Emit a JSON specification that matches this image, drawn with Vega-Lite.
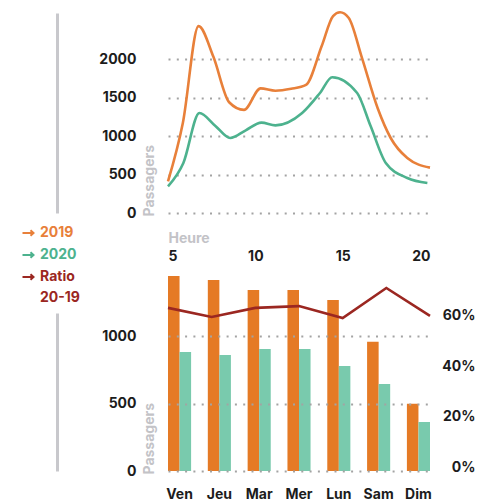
{
  "$schema": "https://vega.github.io/schema/vega-lite/v6.json",
  "padding": {"left": 21, "top": 7, "right": 0, "bottom": 0},
  "spacing": 56,
  "bounds": "flush",
  "config": {
    "font": "Inter",
    "view": {"stroke": null},
    "axis": {
      "labelFont": "Inter", "labelFontSize": 14, "labelFontWeight": "bold", "labelColor": "#1c1c1c",
      "titleFont": "Inter", "titleFontSize": 14, "titleFontWeight": "bold", "titleColor": "#c3c3c7",
      "ticks": false, "domain": false
    }
  },
  "resolve": {"scale": {"color": "independent"}, "legend": {"color": "independent"}},
  "datasets": {
    "heures": [
      {"heure": 5.0, "passagers": 411, "annee": "2019"},
      {"heure": 5.85, "passagers": 1170, "annee": "2019"},
      {"heure": 6.75, "passagers": 2430, "annee": "2019"},
      {"heure": 7.6, "passagers": 2030, "annee": "2019"},
      {"heure": 8.5, "passagers": 1440, "annee": "2019"},
      {"heure": 9.35, "passagers": 1340, "annee": "2019"},
      {"heure": 10.3, "passagers": 1620, "annee": "2019"},
      {"heure": 11.15, "passagers": 1590, "annee": "2019"},
      {"heure": 12.05, "passagers": 1615, "annee": "2019"},
      {"heure": 12.9, "passagers": 1665, "annee": "2019"},
      {"heure": 13.8, "passagers": 2170, "annee": "2019"},
      {"heure": 14.45, "passagers": 2560, "annee": "2019"},
      {"heure": 14.85, "passagers": 2610, "annee": "2019"},
      {"heure": 15.35, "passagers": 2535, "annee": "2019"},
      {"heure": 16.1, "passagers": 2020, "annee": "2019"},
      {"heure": 17.0, "passagers": 1365, "annee": "2019"},
      {"heure": 17.75, "passagers": 975, "annee": "2019"},
      {"heure": 18.7, "passagers": 715, "annee": "2019"},
      {"heure": 20.0, "passagers": 590, "annee": "2019"},
      {"heure": 5.0, "passagers": 346, "annee": "2020"},
      {"heure": 5.88, "passagers": 650, "annee": "2020"},
      {"heure": 6.8, "passagers": 1300, "annee": "2020"},
      {"heure": 7.7, "passagers": 1135, "annee": "2020"},
      {"heure": 8.56, "passagers": 975, "annee": "2020"},
      {"heure": 9.45, "passagers": 1075, "annee": "2020"},
      {"heure": 10.35, "passagers": 1175, "annee": "2020"},
      {"heure": 11.15, "passagers": 1139, "annee": "2020"},
      {"heure": 12.68, "passagers": 1300, "annee": "2020"},
      {"heure": 13.7, "passagers": 1560, "annee": "2020"},
      {"heure": 14.4, "passagers": 1765, "annee": "2020"},
      {"heure": 15.83, "passagers": 1560, "annee": "2020"},
      {"heure": 16.6, "passagers": 1130, "annee": "2020"},
      {"heure": 17.47, "passagers": 650, "annee": "2020"},
      {"heure": 18.7, "passagers": 455, "annee": "2020"},
      {"heure": 19.85, "passagers": 390, "annee": "2020"}
    ],
    "jours": [
      {"jour": "Ven", "annee": "2019", "passagers": 1448},
      {"jour": "Ven", "annee": "2020", "passagers": 884},
      {"jour": "Jeu", "annee": "2019", "passagers": 1418},
      {"jour": "Jeu", "annee": "2020", "passagers": 861},
      {"jour": "Mar", "annee": "2019", "passagers": 1344},
      {"jour": "Mar", "annee": "2020", "passagers": 906},
      {"jour": "Mer", "annee": "2019", "passagers": 1344},
      {"jour": "Mer", "annee": "2020", "passagers": 906},
      {"jour": "Lun", "annee": "2019", "passagers": 1270},
      {"jour": "Lun", "annee": "2020", "passagers": 780},
      {"jour": "Sam", "annee": "2019", "passagers": 960},
      {"jour": "Sam", "annee": "2020", "passagers": 646},
      {"jour": "Dim", "annee": "2019", "passagers": 500},
      {"jour": "Dim", "annee": "2020", "passagers": 364}
    ],
    "ratios": [
      {"jour": "Ven", "ratio": 0.646},
      {"jour": "Jeu", "ratio": 0.61},
      {"jour": "Mar", "ratio": 0.646},
      {"jour": "Mer", "ratio": 0.653},
      {"jour": "Lun", "ratio": 0.606},
      {"jour": "Sam", "ratio": 0.725},
      {"jour": "Dim", "ratio": 0.614}
    ]
  },
  "vconcat": [
    {
      "width": 262,
      "height": 200,
      "data": {"name": "heures"},
      "layer": [
        {
          "mark": {"type": "line", "interpolate": "monotone", "strokeWidth": 2.6},
          "encoding": {
            "x": {
              "field": "heure", "type": "quantitative",
              "scale": {"domain": [5, 20], "nice": false, "zero": false},
              "axis": {
                "title": "Heure", "values": [5, 10, 15, 20], "labelFlush": true, "labelPadding": 36,
                "grid": false, "titleX": 0, "titleY": 29, "titleAlign": "left", "titleAnchor": "start",
                "titleBaseline": "alphabetic", "titleAngle": 0
              }
            },
            "y": {
              "field": "passagers", "type": "quantitative",
              "scale": {"domain": [0, 2600], "nice": false},
              "axis": {
                "orient": "left", "values": [0, 500, 1000, 1500, 2000], "format": "d", "title": "Passagers",
                "titleAngle": -90, "titleX": -15, "titleY": 203, "titleAlign": "left", "titleAnchor": "start",
                "titleBaseline": "alphabetic", "labelPadding": 32,
                "grid": true, "gridDash": [2, 6.3], "gridColor": "#a3a3a3", "gridWidth": 2
              }
            },
            "color": {
              "field": "annee", "type": "nominal",
              "scale": {"domain": ["2019", "2020", "Ratio"], "range": ["#E8803A", "#4DB28E", "#9B2721"]},
              "legend": {
                "orient": "none", "legendX": -147, "legendY": 213, "title": null, "padding": 0,
                "symbolType": "M-1,0L0.95,0M0.45,-0.5L1,0L0.45,0.5", "symbolSize": 121, "symbolStrokeWidth": 2,
                "labelFont": "Inter", "labelFontSize": 14, "labelFontWeight": "bold", "labelOffset": 5, "rowPadding": 8,
                "labelExpr": "datum.label == 'Ratio' ? ['Ratio', '20-19'] : datum.label",
                "encode": {
                  "labels": {
                    "update": {
                      "fill": {"signal": "datum.value == '2019' ? '#E8803A' : datum.value == '2020' ? '#4DB28E' : '#9B2721'"},
                      "lineHeight": {"value": 21}
                    }
                  }
                }
              }
            }
          }
        },
        {
          "mark": {"type": "line", "opacity": 0},
          "encoding": {
            "x": {"field": "heure", "type": "quantitative"},
            "y": {
              "field": "passagers", "type": "quantitative",
              "axis": {"orient": "left", "offset": 111, "labels": false, "grid": false, "title": null,
                       "domain": true, "domainColor": "#c8c8cc", "domainWidth": 3}
            },
            "detail": {"field": "annee"}
          }
        }
      ],
      "resolve": {"axis": {"y": "independent"}}
    },
    {
      "width": 262,
      "height": 202,
      "layer": [
        {
          "data": {"name": "jours"},
          "mark": {"type": "bar"},
          "encoding": {
            "x": {
              "field": "jour", "type": "nominal", "sort": ["Ven", "Jeu", "Mar", "Mer", "Lun", "Sam", "Dim"],
              "scale": {"paddingInner": 0.42, "paddingOuter": 0},
              "axis": {"title": null, "labelAngle": 0, "labelPadding": 16, "grid": false}
            },
            "xOffset": {"field": "annee", "type": "nominal", "sort": ["2019", "2020"]},
            "y": {
              "field": "passagers", "type": "quantitative",
              "scale": {"domain": [0, 1500], "nice": false},
              "axis": {
                "orient": "left", "values": [0, 500, 1000], "format": "d", "title": "Passagers",
                "titleAngle": -90, "titleX": -15, "titleY": 205, "titleAlign": "left", "titleAnchor": "start",
                "titleBaseline": "alphabetic", "labelPadding": 32,
                "grid": true, "gridDash": [2, 6.3], "gridColor": "#a3a3a3", "gridWidth": 2, "zindex": 1
              }
            },
            "color": {
              "field": "annee", "type": "nominal",
              "scale": {"domain": ["2019", "2020"], "range": ["#E57A25", "#79CAAD"]},
              "legend": null
            }
          }
        },
        {
          "data": {"name": "jours"},
          "mark": {"type": "point", "opacity": 0},
          "encoding": {
            "y": {
              "field": "passagers", "type": "quantitative",
              "scale": {"domain": [0, 1500], "nice": false},
              "axis": {"orient": "left", "offset": 111, "labels": false, "grid": false, "title": null,
                       "domain": true, "domainColor": "#c8c8cc", "domainWidth": 3, "domainDash": [158, 200]}
            }
          }
        },
        {
          "data": {"name": "ratios"},
          "mark": {"type": "line", "color": "#9B2721", "strokeWidth": 2.6},
          "encoding": {
            "x": {
              "field": "jour", "type": "ordinal", "sort": ["Ven", "Jeu", "Mar", "Mer", "Lun", "Sam", "Dim"],
              "scale": {"type": "point", "padding": 0}, "axis": null
            },
            "y": {
              "field": "ratio", "type": "quantitative",
              "scale": {"domain": [0, 0.8], "nice": false},
              "axis": {
                "orient": "right", "values": [0, 0.2, 0.4, 0.6], "format": ".0%", "labelAlign": "right",
                "labelPadding": 45, "labelOffset": -4, "grid": false, "title": null
              }
            }
          }
        }
      ],
      "resolve": {"scale": {"x": "independent", "y": "independent"}}
    }
  ]
}
